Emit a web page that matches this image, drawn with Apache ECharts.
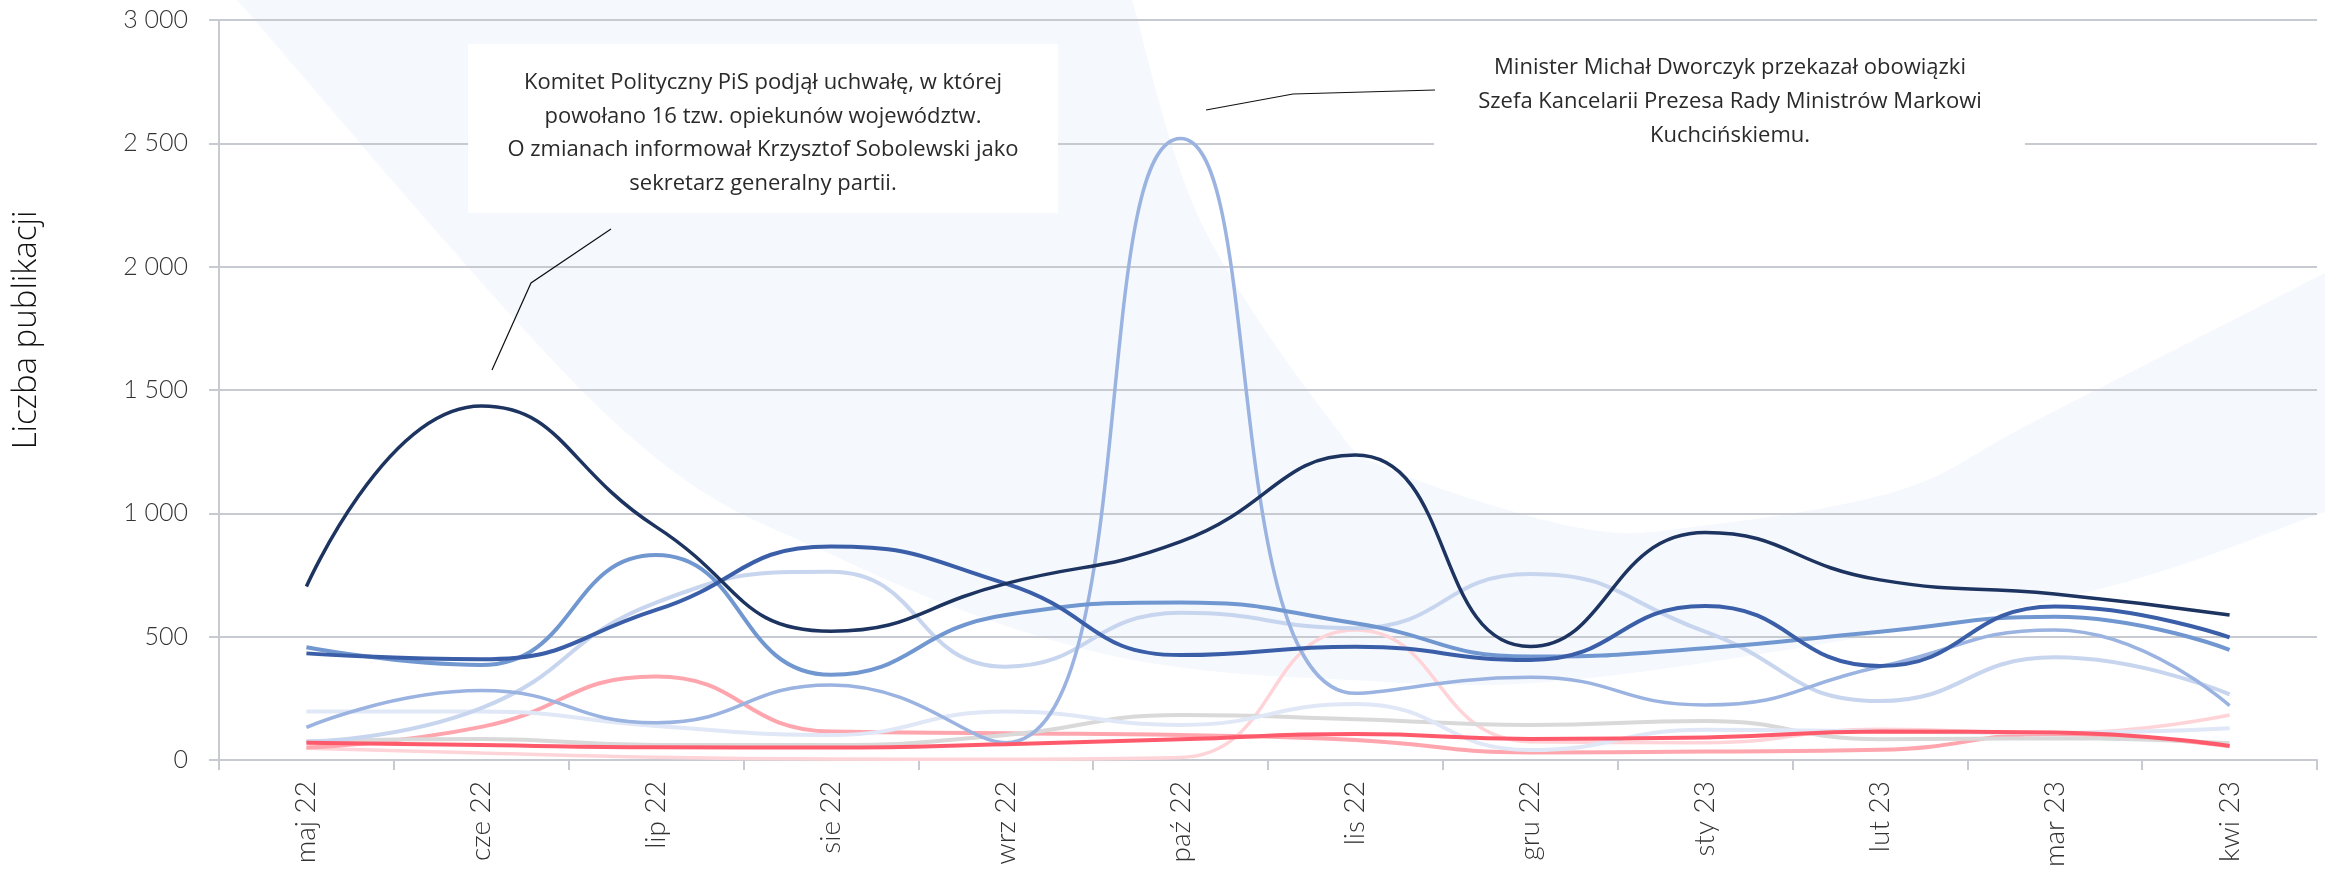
<!DOCTYPE html>
<html><head><meta charset="utf-8">
<script src="https://cdn.jsdelivr.net/npm/echarts@6/dist/echarts.min.js"></script>
<style>html,body{margin:0;padding:0;background:#fff;}#c{width:2325px;height:870px;}</style>
</head><body><div id="c"></div>
<script>
// ---- data ----
const categories = ['maj 22','cze 22','lip 22','sie 22','wrz 22','paź 22','lis 22','gru 22','sty 23','lut 23','mar 23','kwi 23'];
const yTickValues = [0, 500, 1000, 1500, 2000, 2500, 3000];
const yTickLabels = ['0', '500', '1 000', '1 500', '2 000', '2 500', '3 000'];
const seriesNavy      = [703, 1435, 945, 522, 715, 885, 1236, 460, 922, 730, 673, 588];
const seriesBlue      = [432, 408, 608, 865, 715, 425, 459, 405, 624, 381, 622, 497];
const seriesMidBlue   = [457, 385, 831, 345, 588, 638, 554, 419, 453, 520, 581, 446];
const seriesSkyBlue   = [132, 281, 151, 304, 70, 2520, 270, 335, 223, 378, 527, 220];
const seriesLightBlue = [75, 210, 638, 763, 378, 597, 534, 754, 520, 239, 416, 266];
const seriesPaleBlue  = [196, 196, 138, 101, 196, 142, 227, 40, 122, 115, 110, 128];
const seriesGrey      = [75, 85, 61, 61, 101, 182, 165, 142, 158, 84, 88, 68];
const seriesRed       = [70, 61, 51, 50, 64, 84, 105, 85, 91, 115, 111, 57];
const seriesPink      = [50, 134, 338, 115, 108, 101, 81, 30, 34, 41, 105, 55];
const seriesLightPink = [47, 28, 11, 4, 3, 10, 527, 74, 70, 124, 108, 182];
const yAxisTitle = 'Liczba publikacji';
const note1 = 'Komitet Polityczny PiS podjął uchwałę, w której\npowołano 16 tzw. opiekunów województw.\nO zmianach informował Krzysztof Sobolewski jako\nsekretarz generalny partii.';
const note2 = 'Minister Michał Dworczyk przekazał obowiązki\nSzefa Kancelarii Prezesa Rady Ministrów Markowi\nKuchcińskiemu.';

// ---- styling ----
const seriesDefs = [
  {data: seriesLightPink, color: '#ffd4d8', w: 3.5},
  {data: seriesPink,      color: '#ffa5ae', w: 4},
  {data: seriesGrey,      color: '#d9d9d9', w: 4},
  {data: seriesPaleBlue,  color: '#e0e7f6', w: 4},
  {data: seriesLightBlue, color: '#c8d5ee', w: 4},
  {data: seriesSkyBlue,   color: '#9ab3e0', w: 3.5},
  {data: seriesMidBlue,   color: '#7197d1', w: 4},
  {data: seriesBlue,      color: '#3a5ea8', w: 4},
  {data: seriesRed,       color: '#ff5a6c', w: 4},
  {data: seriesNavy,      color: '#1d3461', w: 3.5}
];

// background decorative band: sampled Catmull-Rom curves
function crSample(pts, steps) {
  const out = [];
  for (let i = 0; i < pts.length - 1; i++) {
    const p0 = pts[i - 1] || pts[i], p1 = pts[i], p2 = pts[i + 1], p3 = pts[i + 2] || pts[i + 1];
    const c1 = [p1[0] + (p2[0] - p0[0]) / 6, p1[1] + (p2[1] - p0[1]) / 6];
    const c2 = [p2[0] - (p3[0] - p1[0]) / 6, p2[1] - (p3[1] - p1[1]) / 6];
    for (let k = 0; k < steps; k++) {
      const t = k / steps, u = 1 - t;
      out.push([
        u*u*u*p1[0] + 3*u*u*t*c1[0] + 3*u*t*t*c2[0] + t*t*t*p2[0],
        u*u*u*p1[1] + 3*u*u*t*c1[1] + 3*u*t*t*c2[1] + t*t*t*p2[1]
      ]);
    }
  }
  out.push(pts[pts.length - 1]);
  return out;
}
const outerEdge = [[237,0],[612,420],[843,560],[1100,653],[1350,680],[1600,677],[2067,597],[2325,512]];
const innerEdge = [[2325,273],[2037,420],[1900,490],[1700,526],[1580,528],[1392,470],[1330,420],[1200,220],[1132,0]];
const bandPoints = crSample(outerEdge, 24).concat(crSample(innerEdge, 24));

const chart = echarts.init(document.getElementById('c'), null, {renderer: 'canvas'});
const gridColor = '#c7cbd1';
chart.setOption({
  animation: false,
  backgroundColor: '#ffffff',
  grid: {left: 219, right: 8, top: 20, bottom: 110, containLabel: false},
  xAxis: {
    type: 'category',
    data: categories,
    boundaryGap: true,
    axisLine: {show: true, lineStyle: {color: gridColor, width: 2}},
    axisTick: {show: true, length: 10, lineStyle: {color: gridColor, width: 2}},
    axisLabel: {rotate: 90, margin: 21, color: '#333', fontFamily: 'Lato', fontWeight: 300, fontSize: 28, interval: 0}
  },
  yAxis: {
    type: 'value',
    min: 0, max: 3000, interval: 500,
    axisLine: {show: true, lineStyle: {color: gridColor, width: 2}},
    axisTick: {show: true, length: 10, lineStyle: {color: gridColor, width: 2}},
    splitLine: {show: true, lineStyle: {color: gridColor, width: 2}},
    axisLabel: {
      margin: 31, color: '#333', fontFamily: 'Lato', fontWeight: 300, fontSize: 25,
      formatter: v => yTickLabels[yTickValues.indexOf(v)]
    }
  },
  series: seriesDefs.map((s, i) => ({
    name: 'Seria ' + (i + 1),
    type: 'line',
    smooth: true,
    symbol: 'none',
    data: s.data,
    lineStyle: {color: s.color, width: s.w},
    itemStyle: {color: s.color},
    z: 2 + i * 0.01
  })),
  graphic: [
    {type: 'polygon', z: -100, silent: true, shape: {points: bandPoints}, style: {fill: '#f5f9fe'}},
    {type: 'text', z: 100, x: 27, y: 330, rotation: Math.PI / 2,
      style: {text: yAxisTitle, font: '300 33px "Open Sans"', fill: '#111', align: 'center', verticalAlign: 'middle'}},
    {type: 'rect', z: 100, shape: {x: 468, y: 44, width: 590, height: 169}, style: {fill: '#ffffff'}},
    {type: 'text', z: 101, x: 763, y: 133,
      style: {text: note1, font: '22px "Open Sans"', fill: '#2a2a2a', align: 'center', verticalAlign: 'middle', lineHeight: 33.5}},
    {type: 'polyline', z: 101, shape: {points: [[492, 370], [531, 283], [611, 229]]}, style: {stroke: '#111', lineWidth: 1.2, fill: null}},
    {type: 'rect', z: 100, shape: {x: 1434, y: 28, width: 591, height: 150}, style: {fill: '#ffffff'}},
    {type: 'text', z: 101, x: 1730, y: 102,
      style: {text: note2, font: '22px "Open Sans"', fill: '#2a2a2a', align: 'center', verticalAlign: 'middle', lineHeight: 34}},
    {type: 'polyline', z: 101, shape: {points: [[1206, 110], [1293, 94], [1435, 90]]}, style: {stroke: '#111', lineWidth: 1.2, fill: null}}
  ]
});
</script></body></html>
